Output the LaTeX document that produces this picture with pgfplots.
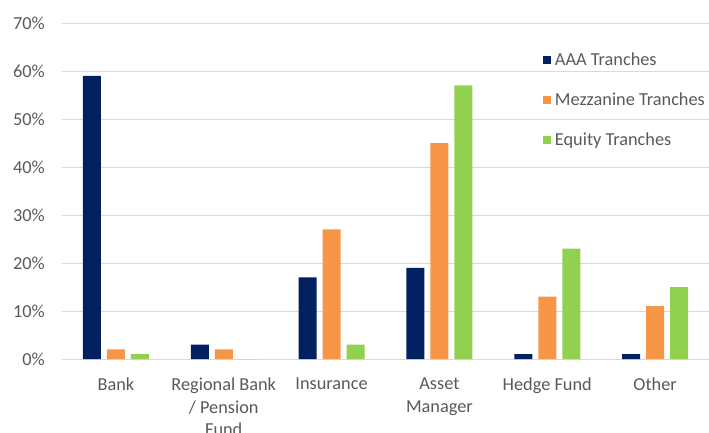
\documentclass[border=0pt]{standalone}
\usepackage{fontspec}
\setmainfont{Carlito}
\usepackage{pgfplots}
\pgfplotsset{compat=1.18}

\definecolor{aaa}{HTML}{002060}
\definecolor{mezz}{HTML}{F79646}
\definecolor{equity}{HTML}{92D050}
\definecolor{txt}{HTML}{595959}
\definecolor{gridc}{HTML}{D9D9D9}

\begin{document}
\begin{tikzpicture}
\begin{axis}[
    at={(0pt,0pt)}, anchor=south west,
    scale only axis,
    width=647pt, height=336pt,
    ybar=6pt, bar width=18pt,
    xmin=-0.5, xmax=5.5,
    ymin=0, ymax=70,
    xtick={0,...,5},
    xticklabels={Bank, {Regional Bank\\/ Pension\\Fund}, Insurance, {Asset\\Manager}, Hedge Fund, Other},
    ytick={0,10,...,70},
    yticklabels={0\%,10\%,20\%,30\%,40\%,50\%,60\%,70\%},
    axis line style={draw=none},
    major tick length=0pt,
    ymajorgrids,
    grid style={gridc, line width=0.9pt},
    tick label style={font=\fontsize{18.3}{22.5}\selectfont, text=txt},
    xticklabel style={anchor=north, inner sep=0pt, yshift=-19pt, align=center},
    yticklabel style={anchor=east, inner sep=0pt, xshift=-17pt},
    legend style={at={(0.743,0.919)}, anchor=north west, draw=none, fill=none,
        font=\fontsize{18.3}{22.5}\selectfont, text=txt,
        row sep=22pt, inner sep=0pt,
        cells={anchor=west}},
    legend image code/.code={\fill[#1] (0pt,-4pt) rectangle (8pt,4pt);
        \path (0pt,0pt) -- (10pt,0pt);},
]
\addplot[fill=aaa, draw=none] coordinates {(0,59) (1,3) (2,17) (3,19) (4,1) (5,1)};
\addplot[fill=mezz, draw=none] coordinates {(0,2) (1,2) (2,27) (3,45) (4,13) (5,11)};
\addplot[fill=equity, draw=none] coordinates {(0,1) (1,0) (2,3) (3,57) (4,23) (5,15)};
\legend{AAA Tranches, Mezzanine Tranches, Equity Tranches}
\end{axis}
\pgfresetboundingbox
\path[use as bounding box] (-62pt,-73pt) rectangle (647pt,359pt);
\end{tikzpicture}
\end{document}
